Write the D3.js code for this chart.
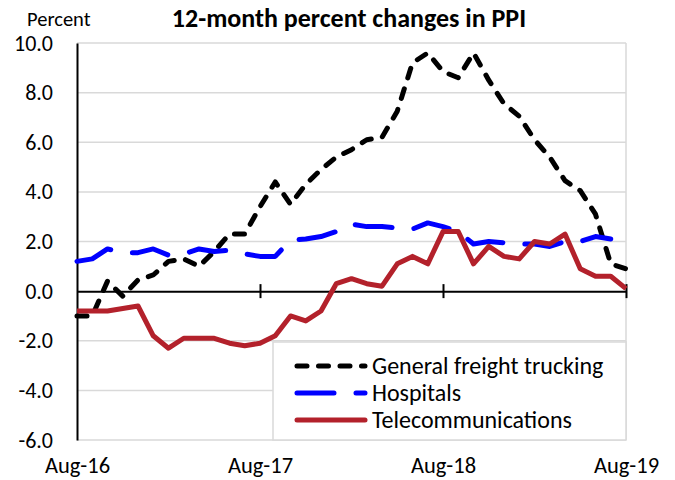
<!DOCTYPE html>
<html>
<head>
<meta charset="utf-8">
<script src="https://cdn.jsdelivr.net/npm/d3@7"></script>
<style>
  html, body { margin: 0; padding: 0; background: #fff; }
  svg { display: block; }
  text { font-family: Calibri, Carlito, Lato, sans-serif; fill: #000; }
</style>
</head>
<body>
<svg id="chart" width="675" height="480"></svg>
<script>
// ---- data ----
const months = ["Aug-16","Sep-16","Oct-16","Nov-16","Dec-16","Jan-17","Feb-17","Mar-17","Apr-17","May-17","Jun-17","Jul-17",
                "Aug-17","Sep-17","Oct-17","Nov-17","Dec-17","Jan-18","Feb-18","Mar-18","Apr-18","May-18","Jun-18","Jul-18",
                "Aug-18","Sep-18","Oct-18","Nov-18","Dec-18","Jan-19","Feb-19","Mar-19","Apr-19","May-19","Jun-19","Jul-19","Aug-19"];
const trucking = [-1.0,-1.0,0.4,-0.2,0.45,0.65,1.2,1.3,1.0,1.6,2.3,2.3,
                  3.4,4.4,3.5,4.3,4.9,5.4,5.7,6.1,6.2,7.25,9.2,9.6,
                  8.85,8.6,9.6,8.5,7.55,7.05,6.1,5.4,4.45,4.05,3.1,1.1,0.9];
const hospitals = [1.2,1.3,1.7,1.55,1.55,1.7,1.45,1.5,1.7,1.6,1.65,1.5,
                   1.4,1.4,2.05,2.1,2.2,2.4,2.7,2.6,2.6,2.55,2.5,2.75,
                   2.6,2.4,1.9,2.0,1.95,1.9,1.9,1.8,2.0,2.0,2.2,2.1,null];
const telecom = [-0.8,-0.8,-0.8,-0.7,-0.6,-1.8,-2.3,-1.9,-1.9,-1.9,-2.1,-2.2,
                 -2.1,-1.8,-1.0,-1.2,-0.8,0.3,0.5,0.3,0.2,1.1,1.4,1.1,
                 2.4,2.4,1.1,1.8,1.4,1.3,2.0,1.9,2.3,0.9,0.6,0.6,0.1];
const seriesNames = ["General freight trucking","Hospitals","Telecommunications"];
const yTicks = [-6,-4,-2,0,2,4,6,8,10];
const xTickIdx = [0,12,24,36];

// ---- layout ----
const L = 77, R = 626, T = 43, B = 440;
const svg = d3.select("#chart");
const x = d3.scaleLinear().domain([0, months.length - 1]).range([L, R]);
const y = d3.scaleLinear().domain([-6, 10]).range([B, T]);

const styles = [
  {color:"#000000", dash:"10,11.5", width:5},
  {color:"#0000ff", dash:"37,22", width:5},
  {color:"#b3212b", dash:null, width:5}
];
const data = [trucking, hospitals, telecom];

// gridlines
svg.append("g").selectAll("line").data(yTicks.filter(d => d !== 0)).join("line")
  .attr("x1", L).attr("x2", R).attr("y1", d => y(d)).attr("y2", d => y(d))
  .attr("stroke", "#d9d9d9").attr("stroke-width", 1.5);
// right border
svg.append("line").attr("x1", R).attr("x2", R).attr("y1", T).attr("y2", B)
  .attr("stroke", "#d9d9d9").attr("stroke-width", 1.5);

// y axis
const yAxis = svg.append("g").attr("transform", `translate(${L},0)`)
  .call(d3.axisLeft(y).tickValues(yTicks).tickSize(0).tickPadding(24).tickFormat(d => d.toFixed(1)));
yAxis.select(".domain").attr("stroke", "#000").attr("stroke-width", 2);
yAxis.selectAll("text").style("font-size", "22px").attr("font-family", null);

// zero axis with crossing ticks
const zAxis = svg.append("g").attr("transform", `translate(0,${y(0)})`)
  .call(d3.axisBottom(x).tickValues(xTickIdx.slice(1)).tickSize(7).tickSizeOuter(0).tickFormat(""));
zAxis.select(".domain").attr("stroke", "#000").attr("stroke-width", 2);
zAxis.selectAll(".tick line").attr("y1", -7).attr("y2", 7).attr("stroke", "#000").attr("stroke-width", 2);

// bottom labels
const xAxis = svg.append("g").attr("transform", `translate(0,${B})`)
  .call(d3.axisBottom(x).tickValues(xTickIdx).tickSize(0).tickPadding(17).tickFormat(i => months[i]));
xAxis.select(".domain").remove();
xAxis.selectAll("text").style("font-size", "22.5px").attr("font-family", null);

// series lines
const line = d3.line().defined(d => d != null).x((d, i) => x(i)).y(d => y(d));
data.forEach((vals, k) => {
  svg.append("path").datum(vals)
    .attr("d", line)
    .attr("fill", "none")
    .attr("stroke", styles[k].color)
    .attr("stroke-width", styles[k].width)
    .attr("stroke-linecap", styles[k].dash ? "round" : "butt")
    .attr("stroke-linejoin", "round")
    .attr("stroke-dasharray", styles[k].dash);
});

// legend
const lg = svg.append("g");
lg.append("rect").attr("x", 273).attr("y", 342).attr("width", R - 273).attr("height", B - 342)
  .attr("fill", "#fff").attr("stroke", "#d9d9d9").attr("stroke-width", 1.5);
seriesNames.forEach((name, k) => {
  const yy = 366 + k * 27;
  lg.append("line").attr("x1", 297).attr("x2", 365).attr("y1", yy).attr("y2", yy)
    .attr("stroke", styles[k].color).attr("stroke-width", styles[k].width)
    .attr("stroke-linecap", "round").attr("stroke-dasharray", styles[k].dash);
  lg.append("text").attr("x", 372).attr("y", yy).attr("dy", "0.35em")
    .style("font-size", "24px").text(name);
});

// titles
svg.append("text").attr("x", 349).attr("y", 27).attr("text-anchor", "middle")
  .style("font-size", "26px").style("font-weight", "bold").text("12-month percent changes in PPI");
svg.append("text").attr("x", 27).attr("y", 26).style("font-size", "20.5px").text("Percent");
</script>
</body>
</html>
